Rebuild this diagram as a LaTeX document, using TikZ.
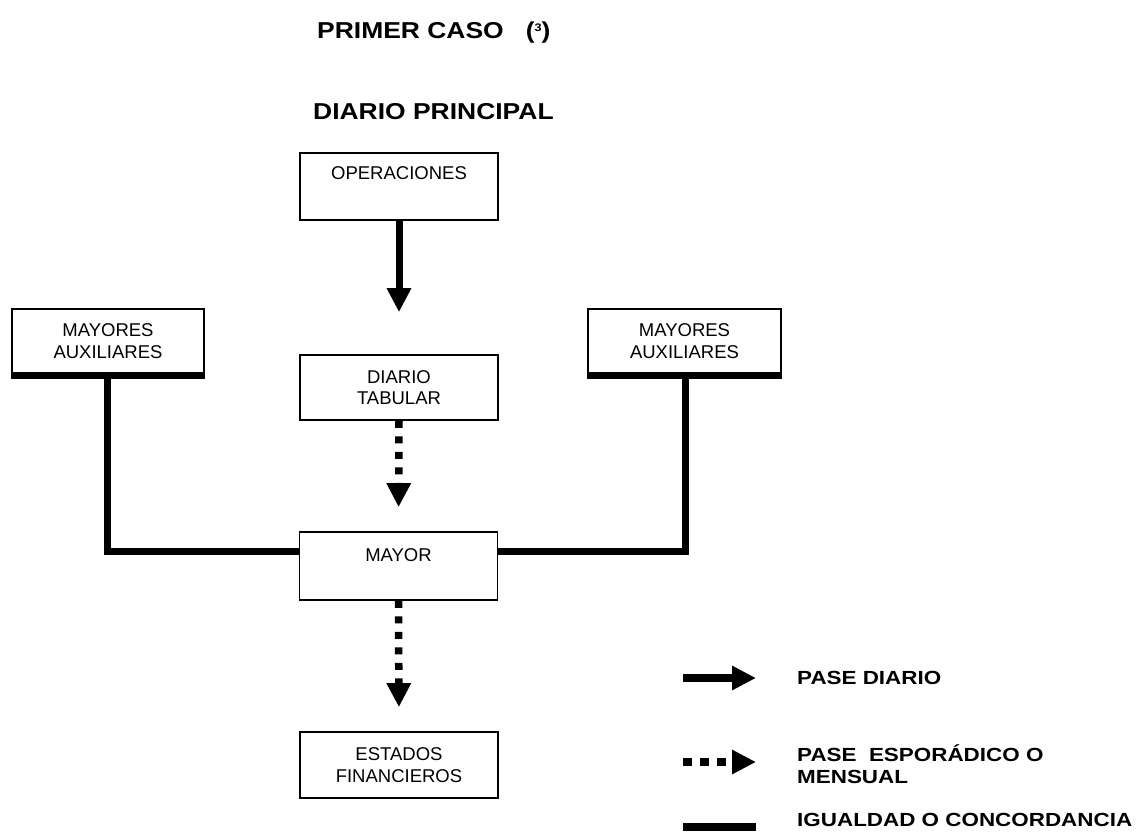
\documentclass[tikz,border=0pt]{standalone}
\usepackage{fontspec}
\setmainfont{Liberation Sans}
\newfontfamily\headfont{Liberation Sans Bold}[FakeStretch=1.15]
\newfontfamily\legendfont{Liberation Sans Bold}[FakeStretch=1.18]
\usetikzlibrary{arrows.meta}

\tikzset{
  box/.style={draw, line width=1.7pt, minimum width=198pt, inner sep=0pt},
  boxtext/.style={font=\fontsize{18.5}{21.5}\selectfont, align=center, inner sep=0pt},
  heading/.style={font=\headfont\fontsize{23}{27}\selectfont, inner sep=0pt, anchor=west},
  legendtext/.style={font=\legendfont\fontsize{19}{22}\selectfont, inner sep=0pt, anchor=west, align=left},
  tip/.style={-{Triangle[width=23pt,length=24pt]}},
  pasediario/.style={line width=7pt, tip},
  paseesporadico/.style={line width=7.5pt, dash pattern=on 7pt off 8.5pt, tip},
  concordancia/.style={line width=7pt},
}

\begin{document}
\begin{tikzpicture}[x=1pt,y=-1pt]
\useasboundingbox (0,0) rectangle (1136,831);

% headings
\node[heading] (titulo) at (317,33) {PRIMER CASO\hspace{22pt}(\raisebox{7pt}{\fontsize{11}{11}\selectfont 3})};
\node[heading] (diario) at (313,112) {DIARIO PRINCIPAL};

% boxes
\node[box, minimum height=67pt] (ops) at (399,186.5) {};
\node[boxtext] (opsT) at (399,173) {OPERACIONES};

\node[box, minimum height=65pt, boxtext, draw, line width=1.7pt, minimum width=198pt] (tab) at (399,387.5) {DIARIO\\TABULAR};

\node[box, minimum height=68pt] (mayor) at (398.5,566) {};
\node[boxtext] (mayorT) at (398.5,555) {MAYOR};

\node[box, minimum height=66pt, boxtext, draw, line width=1.7pt, minimum width=198pt] (est) at (399,765) {ESTADOS\\FINANCIEROS};

\node[box, minimum height=64pt, minimum width=192pt, boxtext, draw, line width=1.7pt] (auxL) at (108,341) {MAYORES\\AUXILIARES};
\node[box, minimum height=64pt, minimum width=193pt, boxtext, draw, line width=1.7pt] (auxR) at (684.5,341) {MAYORES\\AUXILIARES};

% heavy base under the subsidiary ledgers
\draw[concordancia] ([yshift=-2pt]auxL.south west) -- ([yshift=-2pt]auxL.south east);
\draw[concordancia] ([yshift=-2pt]auxR.south west) -- ([yshift=-2pt]auxR.south east);

% agreement lines to the general ledger
\coordinate (jL) at (107,551);
\coordinate (jR) at (685,551);
\draw[concordancia] (auxL.south -| jL) -- (jL) -- (jL -| mayor.west);
\draw[concordancia] (auxR.south -| jR) -- (jR) -- (jR -| mayor.east);

% postings
\draw[pasediario, shorten >=42pt] (ops.south) -- (tab.north);
\draw[paseesporadico, shorten >=24pt] (tab.south) -- (mayor.north);
\draw[paseesporadico, shorten >=24pt] (mayor.south) -- (est.north);

% legend
\coordinate (l1a) at (683,678);
\coordinate (l1b) at (756,678);
\coordinate (l2a) at (683,762);
\coordinate (l2b) at (756,762);
\coordinate (l3a) at (683,827);
\coordinate (l3b) at (756,827);
\draw[line width=8pt, tip] (l1a) -- (l1b);
\draw[line width=8pt, dash pattern=on 8.5pt off 8.5pt, tip] (l2a) -- (l2b);
\draw[line width=8pt] (l3a) -- (l3b);

\node[legendtext] (t1) at (797,678) {PASE DIARIO};
\node[legendtext] (t2) at (797,764) {PASE\ \ ESPORÁDICO O\\MENSUAL};
\node[legendtext] (t3) at (797,820) {IGUALDAD O CONCORDANCIA};
\end{tikzpicture}
\end{document}
